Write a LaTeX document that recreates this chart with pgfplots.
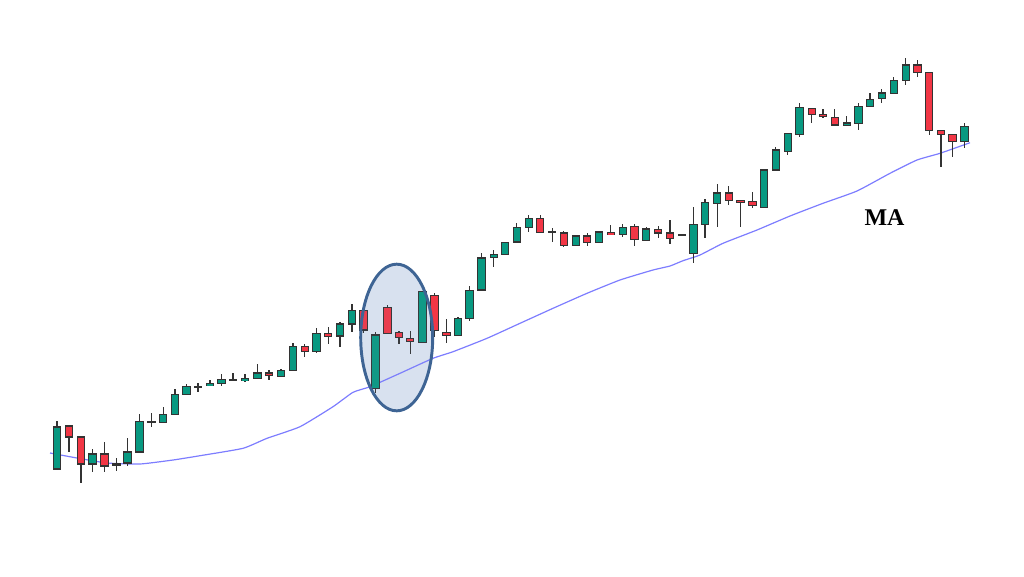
\documentclass[border=0pt]{standalone}
\usepackage{pgfplots}
\usepackage{pgfplotstable}
\usepackage{fontspec}
\setmainfont{Liberation Serif}
\pgfplotsset{compat=1.18}
\definecolor{upc}{HTML}{089981}
\definecolor{dnc}{HTML}{F23645}
\definecolor{edge}{HTML}{333333}
\definecolor{macol}{RGB}{125,125,255}
\definecolor{elledge}{HTML}{3E6494}
\definecolor{ellfill}{HTML}{DFE7F3}
\definecolor{elltint}{HTML}{7F9CC8}

% x, body top, body bottom, wick high, wick low (pixel-like units, y downward)
\pgfplotstableread{
x top bot hi lo
57 427 469 421 469
92.5 454 464 449 472
116.5 464 465 458 471
127.5 452 463 438 466
139.5 421.7 452 414 452
151.5 421.5 422 413 427
163.2 414.7 422.7 406.7 422.7
175 394.3 414.7 389.3 414.7
186.5 386.7 394.3 383.7 394.3
198 386.5 387 382.7 391.7
210 383.7 385.7 380.3 385.7
221.5 379.3 383.3 374.3 385.7
233 379.5 380 373.3 381
245 378.7 380.3 374.3 382.3
257.5 373 378.7 364 379.3
281 370.7 376.3 369 376.3
293 346.7 370.7 343.3 370.7
316.3 333.7 351.7 328.3 353.3
340 324 336 321.7 346.7
352 310.7 324 304.3 332.3
375.5 335 388.3 331.7 393.3
422.3 291.3 342.7 291.3 342.7
458 318.5 335.7 316.7 335.7
469.5 290.3 318.3 286.3 320.7
481.5 258 290 252.7 290
493.7 254.3 257.7 250.3 266.7
504.8 242.3 254.3 242.3 254.3
516.8 227.3 242 223.3 242
528.8 218.3 227.3 215 232.3
552.2 232 232.5 228.3 242
575.8 236 245.7 236 245.7
599 232 242.7 230.7 242.7
622.8 227.3 234.7 224 236.7
646.2 229 240.3 227.3 240.3
681.7 234.7 235.2 234.7 235.2
693.3 224.2 253.5 207 263.3
705.1 202.5 224.2 199 237.7
717.2 193 203.3 184 226.7
764.2 170 207.3 170 207.3
775.7 150 170 147.3 170
787.7 133.7 151.7 133.7 154.7
799.5 107.3 134.7 103.3 137.3
846.7 123 125 116.3 125
858.5 106.7 123.3 102.7 130
870 99.3 106.7 93.3 106.7
881.8 93 98.7 88.7 103.3
893.8 80.3 93.3 77.3 93.3
905.8 65 80.3 58.3 85
964.3 126.7 141.7 123.3 148.3
}\upcandles

\pgfplotstableread{
x top bot hi lo
69 426 437 426 452
81 437 464 437 483
104.5 454 466 442 472
269 373 375.3 370 380
304.8 346.7 351.7 344.3 357.3
328.2 333.7 336 326.7 344.3
363.5 310.7 330 310.7 333.3
387.5 307.3 333.3 305 333.3
399 332.7 337.7 331 344
410.2 338.7 341 331 354
434.5 295.3 330.7 293.3 336.7
446.5 332.3 335.7 319 343.3
540.2 218.3 232.3 214.7 232.3
563.8 233 245.7 230.7 247.3
587.2 236 242.7 233.3 245.7
610.8 232.3 234.7 224.7 234.7
634.5 226.7 239.3 224 245.7
658.2 229.3 233 225.7 237.7
670 233 238.7 220 244.3
728.7 193 200.3 186.3 205
740.5 200.3 202 200.3 226.7
752.3 201.7 205.7 192.3 208.3
811.7 108.3 114.3 108.3 122.7
823 114.3 116 109 118.3
834.8 117.2 124.8 109.2 124.8
917.3 65 72.3 60.3 76.7
929.2 72.3 130.7 72.3 135.3
941 130.7 134.7 130.7 166.7
952.3 134.7 141.7 134.7 156.7
}\dncandles

\pgfplotsset{
  wick/.style={draw=none, mark=none, forget plot,
    error bars/.cd, y dir=both, y explicit, error mark=none,
    error bar style={draw=edge, line width=0.95pt}},
  bodyedge/.style={draw=none, mark=none, forget plot,
    error bars/.cd, y dir=both, y explicit, error mark=none,
    error bar style={draw=edge, line width=6.3pt}},
  bodyfill/.style={draw=none, mark=none, forget plot,
    error bars/.cd, y dir=both, y explicit, error mark=none,
    error bar style={draw=#1, line width=4.8pt}},
}

\begin{document}
\begin{tikzpicture}
\begin{axis}[
  width=768pt, height=432pt, scale only axis,
  xmin=0, xmax=1024, ymin=0, ymax=576,
  y dir=reverse, hide axis, clip=false,
]
\path (rel axis cs:0,0) rectangle (rel axis cs:1,1);

% highlight ellipse (background fill)
\fill[ellfill] (axis cs:396.7,337.5) ellipse [x radius=27pt, y radius=55pt];

% moving average
\addplot[color=macol, line width=0.9pt, mark=none, smooth, tension=0.3] coordinates {
(50,453) (77,458) (107,463) (140,464) (173,460) (200,455.7) (243,448.3)
(267,438.3) (300,426.7) (333,406.7) (353,392.3) (370,386.7) (400,373.3)
(433,358.3) (453,351.7) (487,338.3) (520,323.3) (553,308.3) (587,293.3)
(620,280) (653,270) (670,266) (683,260.7) (700,255) (723,243.3) (757,230)
(790,216) (823,203.3) (857,191) (890,173.3) (917,160) (940,153.3) (970,142.7)
};

% wicks
\addplot[wick] table[x=x, y expr={(\thisrow{hi}+\thisrow{lo})/2},
  y error expr={(\thisrow{lo}-\thisrow{hi})/2}] {\upcandles};
\addplot[wick] table[x=x, y expr={(\thisrow{hi}+\thisrow{lo})/2},
  y error expr={(\thisrow{lo}-\thisrow{hi})/2}] {\dncandles};

% bodies: outline
\addplot[bodyedge] table[x=x, y expr={(\thisrow{top}+\thisrow{bot})/2},
  y error expr={(\thisrow{bot}-\thisrow{top})/2+0.7}] {\upcandles};
\addplot[bodyedge] table[x=x, y expr={(\thisrow{top}+\thisrow{bot})/2},
  y error expr={(\thisrow{bot}-\thisrow{top})/2+0.7}] {\dncandles};

% bodies: fill
\addplot[bodyfill=upc] table[x=x, y expr={(\thisrow{top}+\thisrow{bot})/2},
  y error expr={max((\thisrow{bot}-\thisrow{top})/2-0.7,0)}] {\upcandles};
\addplot[bodyfill=dnc] table[x=x, y expr={(\thisrow{top}+\thisrow{bot})/2},
  y error expr={max((\thisrow{bot}-\thisrow{top})/2-0.7,0)}] {\dncandles};

% highlight ellipse (slight tint over candles and outline)
\draw[line width=2.2pt, draw=elledge, fill=elltint, fill opacity=0.07]
  (axis cs:396.7,337.5) ellipse [x radius=27pt, y radius=55pt];

\node[font=\fontsize{18}{21}\selectfont\bfseries, text=black, inner sep=0pt]
  at (axis cs:884.5,217.5) {MA};
\end{axis}
\end{tikzpicture}
\end{document}
